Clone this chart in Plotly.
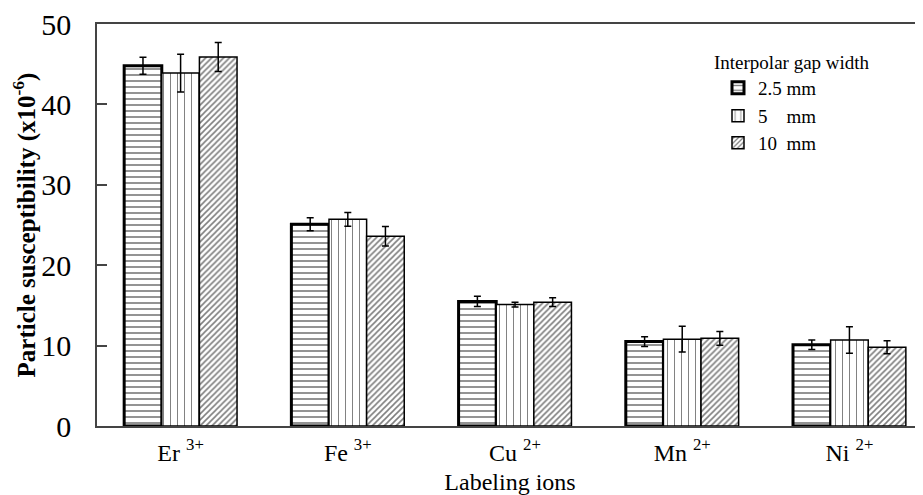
import plotly.graph_objects as go

ions = ["Er <sup>3+</sup>", "Fe <sup>3+</sup>", "Cu <sup>2+</sup>", "Mn <sup>2+</sup>", "Ni <sup>2+</sup>"]

gap_labels = ["2.5 mm", "5\u00a0\u00a0\u00a0\u00a0mm", "10\u00a0\u00a0mm"]

vals_25 = [44.8, 25.1, 15.5, 10.5, 10.1]
err_25 = [1.05, 0.8, 0.65, 0.6, 0.6]
vals_5 = [43.9, 25.7, 15.1, 10.8, 10.7]
err_5 = [2.35, 0.85, 0.3, 1.6, 1.65]
vals_10 = [45.9, 23.6, 15.4, 10.9, 9.8]
err_10 = [1.8, 1.2, 0.55, 0.85, 0.8]

FONT = "Liberation Serif, Times New Roman, serif"

series = [
    (gap_labels[0], vals_25, err_25, dict(shape="-", size=6, solidity=0.28), 3.0, "legend"),
    (gap_labels[1], vals_5, err_5, dict(shape="|", size=7, solidity=0.14), 1.5, "legend2"),
    (gap_labels[2], vals_10, err_10, dict(shape="/", size=4.2, solidity=0.38), 1.5, "legend3"),
]

fig = go.Figure()
for name, vals, errs, pat, lw, lg in series:
    fig.add_trace(go.Bar(
        x=ions, y=vals, name=name, legend=lg, showlegend=True,
        marker=dict(color="white",
                    pattern=dict(fgcolor="black", bgcolor="white", fillmode="overlay", **pat),
                    line=dict(color="black", width=lw)),
        error_y=dict(type="data", array=errs, color="black", thickness=1.5, width=3.5),
    ))

# page has an 8px body margin, so the figure is 8px smaller and shifted
OFF = 8
W, H = 923 - OFF, 495 - OFF
L, T, B = 97 - OFF, 24 - OFF, 69
PW, PH = W - L, H - T - B


def px_x(px):
    return (px - OFF - L) / PW


def px_y(py):
    return (H - B - (py - OFF)) / PH


leg_common = dict(xref="paper", yref="paper", xanchor="left", yanchor="middle",
                  bgcolor="rgba(0,0,0,0)", font=dict(family=FONT, size=19, color="black"),
                  itemclick=False, borderwidth=0, visible=True)
leg_x = px_x(718)
fig.update_layout(
    width=W, height=H,
    showlegend=True,
    margin=dict(l=L, r=0, t=T, b=B, autoexpand=False),
    paper_bgcolor="white", plot_bgcolor="white",
    barmode="group", bargap=0.325, bargroupgap=0.0,
    font=dict(family=FONT, color="black"),
    legend=dict(x=leg_x, y=px_y(88), **leg_common),
    legend2=dict(x=leg_x, y=px_y(116), **leg_common),
    legend3=dict(x=leg_x, y=px_y(143), **leg_common),
    xaxis=dict(
        range=[-0.5, 4.44], showline=True, linecolor="#444", linewidth=1.5, mirror=True,
        ticks="", showgrid=False, ticklabelstandoff=4, ticklabeloverflow="allow",
        tickfont=dict(family=FONT, size=24, color="black"),
        title=dict(text="Labeling ions", font=dict(family=FONT, size=24, color="black"), standoff=9),
    ),
    yaxis=dict(
        range=[0, 50], tickvals=[0, 10, 20, 30, 40, 50], showline=True, linecolor="#444",
        linewidth=1.5, ticks="inside", ticklen=10, tickcolor="#444", tickwidth=1.5,
        showgrid=False, zeroline=False, ticklabelstandoff=18, ticklabeloverflow="allow",
        tickfont=dict(family=FONT, size=30, color="black"),
        title=dict(text="<b>Particle susceptibility (x10<sup>-6</sup>)</b>",
                   font=dict(family=FONT, size=25, color="black"), standoff=7),
    ),
    annotations=[dict(text="Interpolar gap width", xref="paper", yref="paper",
                      x=px_x(712), y=px_y(62), xanchor="left", yanchor="middle",
                      showarrow=False, font=dict(family=FONT, size=19, color="black"))],
)

fig.write_html("out.html")
